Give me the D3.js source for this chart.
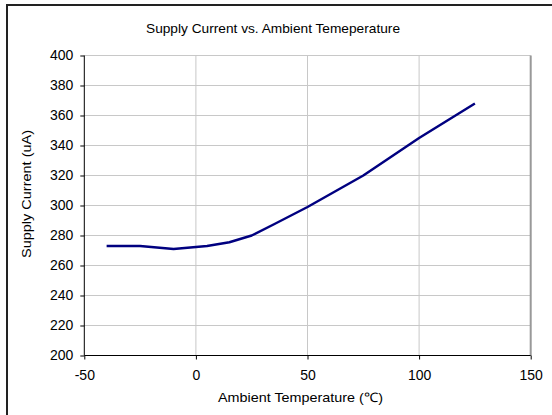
<!DOCTYPE html>
<html><head><meta charset="utf-8">
<script src="https://cdn.jsdelivr.net/npm/d3@7"></script>
<style>body{margin:0;background:#fff}svg{display:block}text{font-family:"Liberation Sans",Arial,sans-serif;fill:#000}</style>
</head><body><svg id="c" width="552" height="415"></svg>
<script>
const temps = [-40, -25, -10, 5, 15, 25, 35, 50, 75, 100, 125];
const current = [273, 273, 271, 273, 275.5, 280, 287.5, 299, 320, 345, 368];
const xTicks = [-50, 0, 50, 100, 150];
const yTicks = [200, 220, 240, 260, 280, 300, 320, 340, 360, 380, 400];
const title = "Supply Current vs. Ambient Temeperature";
const xTitle = "Ambient Temperature (℃)";
const yTitle = "Supply Current (uA)";

const svg = d3.select("#c");
const x = d3.scaleLinear().domain([-50, 150]).range([84.3, 530.7]);
const y = d3.scaleLinear().domain([200, 400]).range([355.5, 55.5]);
const fmt = d => String(d);

svg.append("rect").attr("x", 7).attr("y", 5).attr("width", 600).attr("height", 430)
  .attr("fill", "#fff").attr("stroke", "#222").attr("stroke-width", 2);

// gridlines
svg.append("g").selectAll("line").data(yTicks.slice(1)).join("line")
  .attr("x1", x(-50)).attr("x2", x(150)).attr("y1", d => y(d)).attr("y2", d => y(d))
  .attr("stroke", "#c8c8c8").attr("stroke-width", 1);
svg.append("g").selectAll("line").data(xTicks.slice(1, -1)).join("line")
  .attr("y1", y(200)).attr("y2", y(400)).attr("x1", d => x(d)).attr("x2", d => x(d))
  .attr("stroke", "#c8c8c8").attr("stroke-width", 1);
// plot border right
svg.append("line").attr("x1", x(150)).attr("x2", x(150)).attr("y1", y(400)).attr("y2", y(200))
  .attr("stroke", "#999").attr("stroke-width", 2);

const xa = svg.append("g").attr("transform", `translate(0,${y(200)})`)
  .call(d3.axisBottom(x).tickValues(xTicks).tickSize(4).tickPadding(11).tickFormat(fmt));
const ya = svg.append("g").attr("transform", `translate(${x(-50)},0)`)
  .call(d3.axisLeft(y).tickValues(yTicks).tickSize(4).tickPadding(7).tickFormat(fmt));
[xa, ya].forEach(a => {
  a.select(".domain").remove();
  a.selectAll("line").attr("stroke", "#000").attr("stroke-width", 1);
  a.selectAll("text").attr("font-size", 14).attr("font-family", '"Liberation Sans",Arial,sans-serif').attr("fill", "#000");
});
svg.append("line").attr("x1", x(-50)).attr("x2", x(150)).attr("y1", y(200)).attr("y2", y(200)).attr("stroke", "#000");
svg.append("line").attr("x1", x(-50)).attr("x2", x(-50)).attr("y1", y(200)).attr("y2", y(400)).attr("stroke", "#000");

svg.append("path").datum(temps.map((t, i) => [t, current[i]]))
  .attr("d", d3.line().x(d => x(d[0])).y(d => y(d[1])))
  .attr("fill", "none").attr("stroke", "#000080").attr("stroke-width", 2.5).attr("stroke-linejoin", "round");

svg.append("text").attr("x", 273).attr("y", 32.5).attr("text-anchor", "middle").attr("font-size", 13)
  .attr("textLength", 254).attr("lengthAdjust", "spacingAndGlyphs").text(title);
svg.append("text").attr("x", 300.5).attr("y", 402).attr("text-anchor", "middle").attr("font-size", 13)
  .attr("textLength", 165).attr("lengthAdjust", "spacingAndGlyphs").text(xTitle);
svg.append("text").attr("transform", "translate(31,194) rotate(-90)").attr("text-anchor", "middle").attr("font-size", 13)
  .attr("textLength", 128).attr("lengthAdjust", "spacingAndGlyphs").text(yTitle);
</script></body></html>
